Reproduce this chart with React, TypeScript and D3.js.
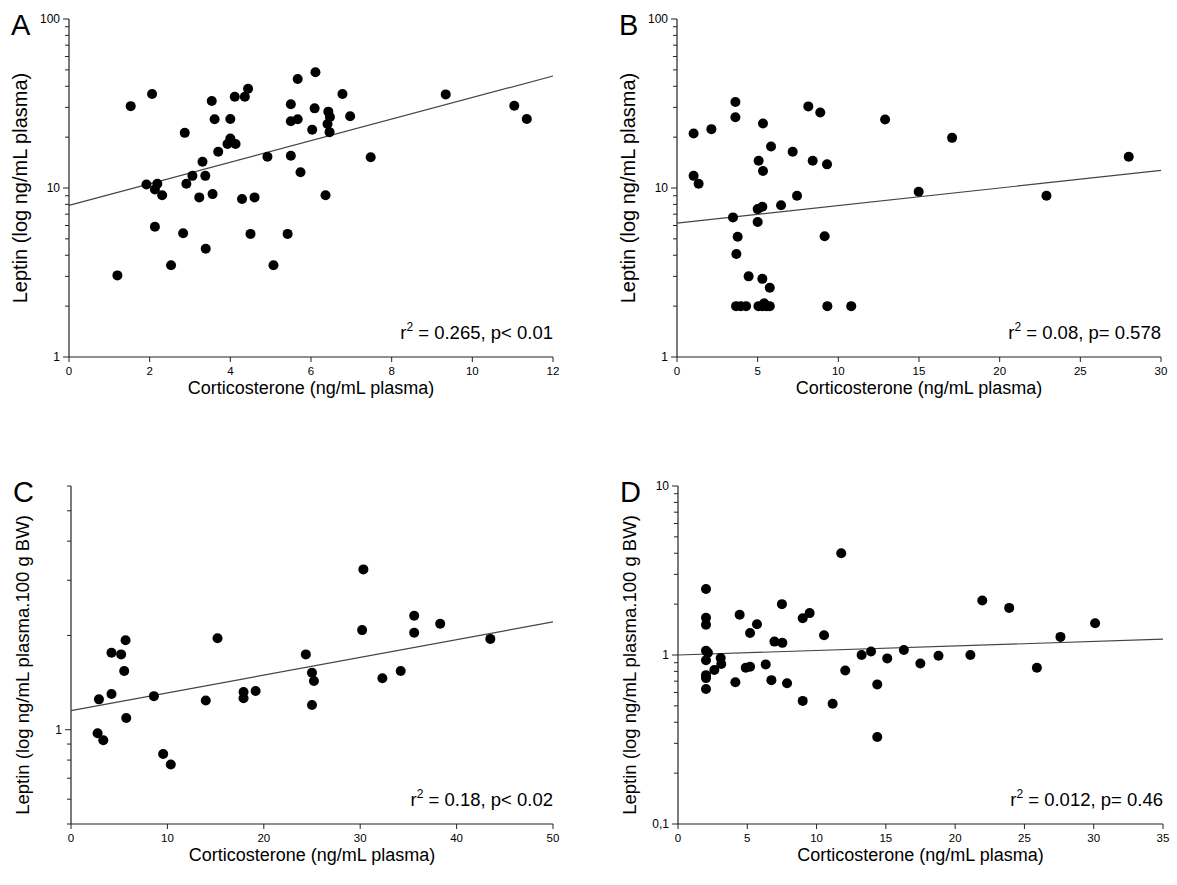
import * as d3 from 'd3';

// A: corticosterone vs leptin (plasma)
const pointsA: [number, number][] = [
  [1.2, 3.04], [1.53, 30.5], [1.92, 10.5], [2.06, 36], [2.13, 9.8], [2.19, 10.6], [2.13, 5.9],
  [2.31, 9.05], [2.53, 3.49], [2.83, 5.4], [2.87, 21.2], [2.91, 10.6], [3.06, 11.8], [3.23, 8.8],
  [3.31, 14.3], [3.38, 11.8], [3.39, 4.37], [3.54, 32.7], [3.56, 9.2], [3.61, 25.5], [3.7, 16.4],
  [3.93, 18.2], [4.0, 19.6], [4.0, 25.6], [4.11, 34.7], [4.13, 18.2], [4.29, 8.6], [4.36, 34.7],
  [4.44, 38.7], [4.5, 5.35], [4.6, 8.8], [4.92, 15.3], [5.07, 3.49], [5.42, 5.35], [5.5, 31.3],
  [5.5, 24.8], [5.5, 15.5], [5.67, 44.2], [5.67, 25.5], [5.74, 12.4], [6.03, 22.1], [6.09, 29.6],
  [6.11, 48.4], [6.36, 9.05], [6.41, 23.9], [6.43, 28.3], [6.46, 21.4], [6.47, 26.3], [6.78, 36],
  [6.97, 26.6], [7.48, 15.2], [9.34, 35.8], [11.04, 30.7], [11.35, 25.6],
];
const fitA: [number, number][] = [[0, 7.9], [12, 46]];

// B
const pointsB: [number, number][] = [
  [1.03, 21], [1.03, 11.8], [1.34, 10.6], [2.13, 22.3], [3.62, 32.3], [3.62, 26.2], [3.47, 6.7],
  [3.76, 5.15], [3.68, 4.07], [3.66, 2.0], [3.95, 2.0], [4.28, 2.0], [4.44, 3.0], [5.0, 7.5],
  [5.0, 6.3], [5.06, 14.5], [5.05, 2.0], [5.29, 7.75], [5.29, 2.9], [5.3, 2.0], [5.4, 2.08],
  [5.33, 24.1], [5.33, 12.6], [5.55, 2.0], [5.75, 2.57], [5.75, 2.0], [5.83, 17.6], [6.45, 7.9],
  [7.17, 16.4], [7.44, 9.0], [8.14, 30.4], [8.41, 14.5], [8.88, 28.0], [9.15, 5.18], [9.3, 13.8],
  [9.32, 2.0], [10.8, 2.0], [12.9, 25.4], [14.98, 9.5], [17.05, 19.8], [22.9, 9.0], [28.0, 15.3],
];
const fitB: [number, number][] = [[0, 6.2], [30, 12.7]];

// C: leptin per 100 g BW
const pointsC: [number, number][] = [
  [2.76, 0.975], [2.9, 1.25], [3.35, 0.926], [4.2, 1.3], [4.2, 1.76], [5.2, 1.74], [5.52, 1.54],
  [5.66, 1.93], [5.73, 1.09], [8.6, 1.28], [9.56, 0.836], [10.35, 0.774], [13.98, 1.24],
  [15.2, 1.96], [17.9, 1.32], [17.9, 1.26], [19.15, 1.33], [24.36, 1.74], [25.0, 1.52],
  [25.2, 1.43], [25.0, 1.2], [30.2, 2.08], [30.33, 3.25], [32.3, 1.46], [34.2, 1.54],
  [35.6, 2.31], [35.6, 2.04], [38.3, 2.18], [43.5, 1.95],
];
const fitC: [number, number][] = [[0, 1.15], [50, 2.21]];

// D
const pointsD: [number, number][] = [
  [2.02, 2.46], [2.02, 1.66], [2.02, 1.51], [2.02, 1.06], [2.16, 1.03], [2.02, 0.93], [2.02, 0.76],
  [2.02, 0.73], [2.02, 0.63], [2.62, 0.815], [3.08, 0.96], [3.12, 0.885], [4.14, 0.69], [4.45, 1.73],
  [4.89, 0.84], [5.2, 0.853], [5.2, 1.35], [5.7, 1.52], [6.33, 0.88], [6.74, 0.71], [6.96, 1.2],
  [7.53, 1.18], [7.5, 2.0], [7.87, 0.68], [9.0, 0.535], [9.0, 1.65], [9.5, 1.77], [10.54, 1.31],
  [11.16, 0.515], [11.78, 4.0], [12.07, 0.81], [13.25, 1.0], [13.93, 1.05], [14.38, 0.67],
  [14.38, 0.327], [15.1, 0.955], [16.3, 1.07], [17.49, 0.89], [18.8, 0.99], [21.1, 1.0],
  [21.96, 2.1], [23.9, 1.9], [25.9, 0.84], [27.6, 1.28], [30.1, 1.54],
];
const fitD: [number, number][] = [[0, 1.0], [35, 1.24]];

const xTicksA = [0, 2, 4, 6, 8, 10, 12];
const xTicksB = [0, 5, 10, 15, 20, 25, 30];
const xTicksC = [0, 10, 20, 30, 40, 50];
const xTicksD = [0, 5, 10, 15, 20, 25, 30, 35];

const yLabelsAB = [1, 10, 100];
const yLabelsC = [1];
const yLabelsD = [0.1, 1, 10];

const statsA = ['0.265', 'p< 0.01'];
const statsB = ['0.08', 'p= 0.578'];
const statsC = ['0.18', 'p< 0.02'];
const statsD = ['0.012', 'p= 0.46'];

const xTitle = 'Corticosterone (ng/mL plasma)';
const yTitleTop = 'Leptin (log ng/mL plasma)';
const yTitleBottom = 'Leptin (log ng/mL plasma.100 g BW)';

const FONT = '"Liberation Sans", Arial, sans-serif';

const panels = [
  { letter: 'A', pts: pointsA, fit: fitA, stats: statsA, xDomain: [0, 12], xTicks: xTicksA, yDomain: [1, 100], yLabels: yLabelsAB, yTitle: yTitleTop, yTitleSize: 20, left: 69, right: 553, top: 19, bottom: 357 },
  { letter: 'B', pts: pointsB, fit: fitB, stats: statsB, xDomain: [0, 30], xTicks: xTicksB, yDomain: [1, 100], yLabels: yLabelsAB, yTitle: yTitleTop, yTitleSize: 20, left: 677, right: 1161, top: 19, bottom: 357 },
  { letter: 'C', pts: pointsC, fit: fitC, stats: statsC, xDomain: [0, 50], xTicks: xTicksC, yDomain: [0.5, 6], yLabels: yLabelsC, yTitle: yTitleBottom, yTitleSize: 18.5, left: 71, right: 553, top: 486, bottom: 824 },
  { letter: 'D', pts: pointsD, fit: fitD, stats: statsD, xDomain: [0, 35], xTicks: xTicksD, yDomain: [0.1, 10], yLabels: yLabelsD, yTitle: yTitleBottom, yTitleSize: 18.5, left: 678, right: 1163, top: 486, bottom: 824 },
];

// all 1..9 multiples of each decade inside the domain
function logTicks(lo: number, hi: number) {
  const out: number[] = [];
  for (let e = Math.floor(Math.log10(lo)); e <= Math.ceil(Math.log10(hi)); e++) {
    for (let m = 1; m <= 9; m++) {
      const v = +(m * Math.pow(10, e)).toPrecision(6);
      if (v >= lo - 1e-9 && v <= hi + 1e-9) out.push(v);
    }
  }
  return out;
}

function Panel({ cfg }: { cfg: any }) {
  const x = d3.scaleLinear().domain(cfg.xDomain).range([cfg.left, cfg.right]);
  const y = d3.scaleLog().domain(cfg.yDomain).range([cfg.bottom, cfg.top]);
  const line = d3.line<[number, number]>().x(d => x(d[0])).y(d => y(d[1]));
  const ticks = logTicks(cfg.yDomain[0], cfg.yDomain[1]);
  const isMajor = (v: number) => Math.abs(Math.log10(v) - Math.round(Math.log10(v))) < 1e-6;
  const fmt = (v: number) => String(v).replace('.', ',');
  const midY = (cfg.top + cfg.bottom) / 2;
  const midX = (cfg.left + cfg.right) / 2;
  const axisColor = '#222';
  // the longer bottom title sits a bit lower so it clears the panel letter
  const titleY = cfg.yTitleSize < 20 ? midY + 10 : midY;

  return (
    <g fontFamily={FONT}>
      <text x={cfg.left - 58} y={cfg.top + 16} fontSize={29}>{cfg.letter}</text>

      {/* y axis */}
      <line x1={cfg.left} x2={cfg.left} y1={y(cfg.yDomain[0])} y2={y(cfg.yDomain[1])} stroke={axisColor} strokeWidth={1.2} />
      {ticks.map(v => (
        <line key={v} x1={cfg.left} x2={cfg.left - (isMajor(v) ? 6 : 4)} y1={y(v)} y2={y(v)} stroke={axisColor} strokeWidth={1} />
      ))}
      {cfg.yLabels.map((v: number) => (
        <text key={v} x={cfg.left - 9} y={y(v) + 4} fontSize={12} textAnchor="end">{fmt(v)}</text>
      ))}
      <text transform={`translate(${cfg.left - 42},${titleY}) rotate(-90)`} fontSize={cfg.yTitleSize} textAnchor="middle">{cfg.yTitle}</text>

      {/* x axis */}
      <line x1={x(cfg.xDomain[0])} x2={x(cfg.xDomain[1])} y1={cfg.bottom} y2={cfg.bottom} stroke={axisColor} strokeWidth={1.2} />
      {cfg.xTicks.map((v: number) => (
        <g key={v}>
          <line x1={x(v)} x2={x(v)} y1={cfg.bottom} y2={cfg.bottom + 5} stroke={axisColor} strokeWidth={1} />
          <text x={x(v)} y={cfg.bottom + 18} fontSize={11.5} textAnchor="middle">{v}</text>
        </g>
      ))}
      <text x={midX} y={cfg.bottom + 37} fontSize={18} textAnchor="middle">{xTitle}</text>

      {/* fit + points */}
      <path d={line(cfg.fit) || ''} fill="none" stroke="#444" strokeWidth={1.2} />
      {cfg.pts.map((p: [number, number], i: number) => (
        <circle key={i} cx={x(p[0])} cy={y(p[1])} r={5} fill="#000" />
      ))}

      <text x={cfg.right} y={cfg.bottom - 18} fontSize={18.5} textAnchor="end">
        r<tspan dy={-8} fontSize={12}>2</tspan><tspan dy={8}>{` = ${cfg.stats[0]}, ${cfg.stats[1]}`}</tspan>
      </text>
    </g>
  );
}

export default function App() {
  return (
    <svg width={1177} height={885} style={{ position: 'absolute', left: 0, top: 0, background: '#fff' }}>
      {panels.map(p => <Panel key={p.letter} cfg={p} />)}
    </svg>
  );
}
